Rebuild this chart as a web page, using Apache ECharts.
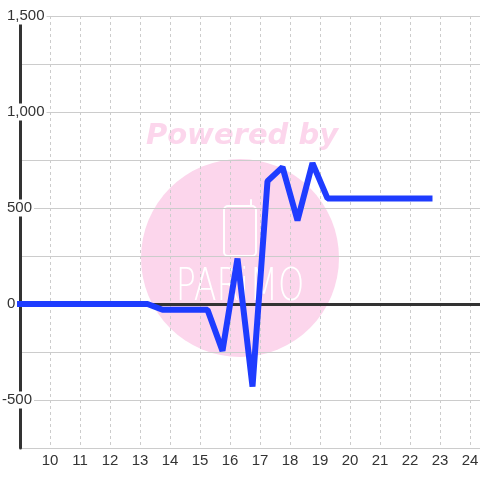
<!DOCTYPE html>
<html>
<head>
<meta charset="utf-8">
<script src="https://cdn.jsdelivr.net/npm/echarts@6/dist/echarts.min.js"></script>
<style>
html,body{margin:0;padding:0;background:#fff;}
#chart{width:480px;height:480px;}
</style>
</head>
<body>
<div id="chart"></div>
<script>
// ---- data ----
const xValues = [8.75, 9.25, 9.75, 10.25, 10.75, 11.25, 11.75, 12.25, 12.75, 13.25,
                 13.75, 14.25, 14.75, 15.25, 15.75, 16.25, 16.75, 17.25, 17.75, 18.25,
                 18.75, 19.25, 19.75, 20.25, 20.75, 21.25, 21.75, 22.25, 22.75];
const yValues = [0, 0, 0, 0, 0, 0, 0, 0, 0, 0,
                 -30, -30, -30, -30, -244, 237, -430, 640, 713, 435,
                 734, 550, 550, 550, 550, 550, 550, 550, 550];
const xTickLabels = [10, 11, 12, 13, 14, 15, 16, 17, 18, 19, 20, 21, 22, 23, 24];
const yTickLabels = [-500, 0, 500, 1000, 1500];

const xMin = 9, xMax = 24.3334;
const yMin = -750, yMax = 1500;
const labelFont = 'Liberation Sans';
const lineColor = '#1e3cff';
const pink = '#fcd6ec';

const chart = echarts.init(document.getElementById('chart'), null, {renderer: 'canvas'});

function fmtY(v) {
  return Number(v).toLocaleString('en-US');
}

const option = {
  animation: false,
  backgroundColor: '#ffffff',
  grid: {left: 20, right: 0, top: 16, bottom: 32, containLabel: false, outerBoundsMode: 'none'},
  graphic: [
    {type: 'circle', z: -10, silent: true, shape: {cx: 240, cy: 258, r: 99}, style: {fill: pink}},
    {type: 'text', z: -10, silent: true, x: 242, y: 136,
     style: {text: 'Powered by', align: 'center', verticalAlign: 'middle',
             font: 'italic bold 29px "DejaVu Sans"', fill: pink}},
    {type: 'rect', z: -9, silent: true, shape: {x: 224, y: 206, width: 32, height: 50, r: 4},
     style: {fill: 'none', stroke: '#ffffff', lineWidth: 2}},
    {type: 'line', z: -9, silent: true, shape: {x1: 251, y1: 206, x2: 251, y2: 200},
     style: {stroke: '#ffffff', lineWidth: 2, lineCap: 'round'}},
    {type: 'text', z: -9, silent: true, x: 240, y: 289, scaleX: 0.76, originX: 0, originY: 0,
     style: {text: 'PARiMO', align: 'center', verticalAlign: 'middle',
             font: '300 44px "DejaVu Sans"', fill: '#ffffff'}}
  ],
  xAxis: [
    {
      type: 'value', min: xMin, max: xMax, interval: 1,
      axisLine: {show: false, onZero: false},
      axisTick: {show: false},
      axisLabel: {
        color: '#333', fontSize: 15, fontFamily: labelFont, margin: 5,
        formatter: function (v) { return xTickLabels.indexOf(Math.round(v * 1000) / 1000) >= 0 ? String(v) : ''; }
      },
      splitLine: {show: true, lineStyle: {color: '#cccccc', width: 1, type: [3, 3]}}
    },
    {
      type: 'value', min: xMin, max: xMax, position: 'top',
      axisLine: {show: true, onZero: true, lineStyle: {color: '#333333', width: 3}},
      axisTick: {show: false},
      axisLabel: {show: false},
      splitLine: {show: false}
    }
  ],
  yAxis: {
    type: 'value', min: yMin, max: yMax, interval: 250,
    axisLine: {show: true, onZero: false, lineStyle: {color: '#333333', width: 3}},
    axisTick: {show: false},
    splitLine: {show: true, lineStyle: {color: '#cccccc', width: 1}},
    axisLabel: {
      align: 'left', margin: 20,
      formatter: function (v) {
        if (yTickLabels.indexOf(v) < 0) return '';
        return (v < 0 ? '{n|' : '{a|') + fmtY(v) + '}';
      },
      rich: {
        a: {backgroundColor: '#ffffff', padding: [1, 2, 1, 7], fontSize: 15,
            fontFamily: labelFont, color: '#333', lineHeight: 15},
        n: {backgroundColor: '#ffffff', padding: [1, 2, 1, 2], fontSize: 15,
            fontFamily: labelFont, color: '#333', lineHeight: 15}
      }
    }
  },
  series: [{
    type: 'line',
    xAxisIndex: 0,
    data: xValues.map(function (x, i) { return [x, yValues[i]]; }),
    symbol: 'none',
    showSymbol: false,
    clip: true,
    z: 5,
    lineStyle: {color: lineColor, width: 6, join: 'bevel'}
  }]
};
chart.setOption(option);
</script>
</body>
</html>
